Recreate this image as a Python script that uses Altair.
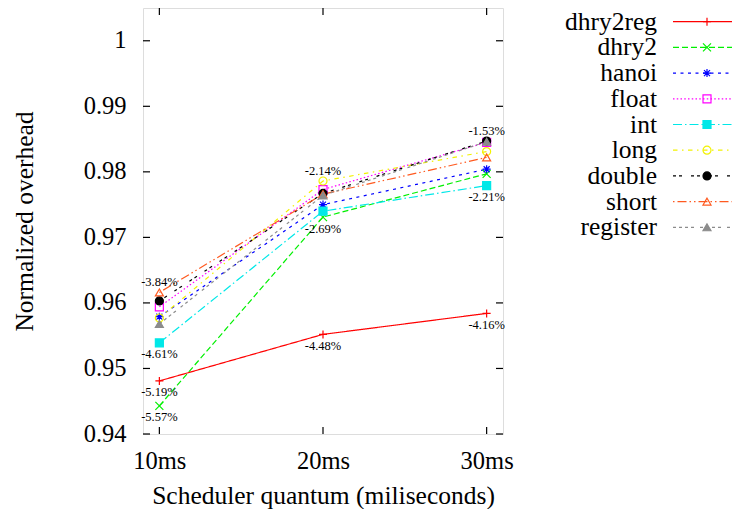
import altair as alt
import pandas as pd

# ---- data ----
series = ["dhry2reg", "dhry2", "hanoi", "float", "int", "long", "double", "short", "register"]
quanta = [10, 20, 30]

dhry2reg = [0.9481, 0.9552, 0.9584]
dhry2 = [0.9443, 0.9731, 0.9797]
hanoi = [0.9579, 0.9750, 0.9804]
float_v = [0.9594, 0.9773, 0.9845]
int_v = [0.9539, 0.9740, 0.9779]
long_v = [0.9577, 0.9786, 0.9831]
double_v = [0.9603, 0.9767, 0.9847]
short_v = [0.9616, 0.9766, 0.9822]
register_v = [0.9568, 0.9764, 0.9846]

y_ticks = [0.94, 0.95, 0.96, 0.97, 0.98, 0.99, 1.0]

label_series = ["short", "int", "dhry2reg", "dhry2", "long", "dhry2", "dhry2reg", "double", "int", "dhry2reg"]
label_quanta = [10, 10, 10, 10, 20, 20, 20, 30, 30, 30]
label_texts = ["-3.84%", "-4.61%", "-5.19%", "-5.57%", "-2.14%", "-2.69%", "-4.48%", "-1.53%", "-2.21%", "-4.16%"]
label_side = ["above", "below", "below", "below", "above", "below", "below", "above", "below", "below"]

# ---- styles ----
colors = ["#ff0000", "#00f000", "#0000ff", "#ff00ff", "#00e8e8", "#f2f200", "#000000", "#ff5a20", "#8c8c8c"]
dashes = [[1, 0], [6, 3], [3, 4.5], [1.5, 2.25], [9, 3, 1.5, 3], [4.5, 4.5, 1.5, 4.5],
          [3, 3, 3, 9], [1.5, 3, 9, 3, 1.5, 3], [3, 3, 3, 3, 3, 3, 3, 6]]
PLUS = "M-1,0L1,0M0,-1L0,1"
CROSS = "M-1,-1L1,1M-1,1L1,-1"
STAR = "M-1,0L1,0M0,-1L0,1M-0.75,-0.75L0.75,0.75M-0.75,0.75L0.75,-0.75"
shapes = [PLUS, CROSS, STAR, "square", "square", "circle", "circle", "triangle-up", "triangle-up"]
fills = ["transparent", "transparent", "transparent", "transparent", "#00e8e8",
         "transparent", "#000000", "transparent", "#8c8c8c"]

FONT = "'Liberation Serif', 'Times New Roman', Times, serif"

all_vals = [dhry2reg, dhry2, hanoi, float_v, int_v, long_v, double_v, short_v, register_v]
rows = []
for s, vals in zip(series, all_vals):
    for q, v in zip(quanta, vals):
        rows.append({"series": s, "quantum": q, "value": v})
df = pd.DataFrame(rows)

lab = pd.DataFrame({"series": label_series, "quantum": label_quanta,
                    "text": label_texts, "side": label_side})
lab = lab.merge(df, on=["series", "quantum"], how="left")

ytick_df = pd.DataFrame({"value": y_ticks})
xtick_df = pd.DataFrame({"quantum": quanta})
leg_df = pd.DataFrame({"series": series})

xscale = alt.Scale(domain=[9, 31], nice=False, zero=False)
yscale = alt.Scale(domain=[0.94, 1.005], nice=False, zero=False)

color = alt.Color("series:N", scale=alt.Scale(domain=series, range=colors), legend=None)
dash = alt.StrokeDash("series:N", scale=alt.Scale(domain=series, range=dashes), legend=None)
shape = alt.Shape("series:N", scale=alt.Scale(domain=series, range=shapes), legend=None)
fill = alt.Fill("series:N", scale=alt.Scale(domain=series, range=fills), legend=None)

xaxis = alt.Axis(values=quanta, labelExpr="datum.value + 'ms'", title="Scheduler quantum (miliseconds)",
                 grid=False, ticks=False, tickSize=0, domain=False, labelPadding=34,
                 labelBaseline="alphabetic", labelFont=FONT, labelFontSize=24.5, labelColor="black",
                 titleFont=FONT, titleFontSize=25.5, titleFontWeight="normal", titleColor="black",
                 titleBaseline="alphabetic", titleX=180, titleY=69)
yaxis = alt.Axis(values=y_ticks, format=".2~f", title="Normalized overhead",
                 grid=False, ticks=False, tickSize=0, domain=False, labelPadding=17,
                 labelFont=FONT, labelFontSize=24.5, labelColor="black",
                 titleFont=FONT, titleFontSize=25.5, titleFontWeight="normal", titleColor="black",
                 titleBaseline="alphabetic", titleX=-111, titleY=213)

X = alt.X("quantum:Q", scale=xscale, axis=xaxis)
Y = alt.Y("value:Q", scale=yscale, axis=yaxis)

base = alt.Chart(df)
lines = base.mark_line(strokeWidth=1.2).encode(x=X, y=Y, color=color, strokeDash=dash, detail="series:N")
points = base.mark_point(filled=False, size=64, strokeWidth=1.2, opacity=1).encode(
    x=X, y=Y, shape=shape, color=color, fill=fill)

labels_above = alt.Chart(lab).transform_filter("datum.side == 'above'").mark_text(
    font=FONT, fontSize=12.5, dy=-10, baseline="middle", color="black").encode(x=X, y=Y, text="text:N")
labels_below = alt.Chart(lab).transform_filter("datum.side == 'below'").mark_text(
    font=FONT, fontSize=12.5, dy=11.5, baseline="middle", color="black").encode(x=X, y=Y, text="text:N")

tick_left = alt.Chart(ytick_df).mark_rule(color="black", strokeWidth=1.2).encode(
    y=Y, x=alt.value(0), x2=alt.value(7))
tick_right = alt.Chart(ytick_df).mark_rule(color="black", strokeWidth=1.2).encode(
    y=Y, x=alt.value(353), x2=alt.value(360))
tick_bottom = alt.Chart(xtick_df).mark_rule(color="black", strokeWidth=1.2).encode(
    x=X, y=alt.value(426), y2=alt.value(419))
tick_top = alt.Chart(xtick_df).mark_rule(color="black", strokeWidth=1.2).encode(
    x=X, y=alt.value(0), y2=alt.value(7))

main = alt.layer(tick_left, tick_right, tick_bottom, tick_top, lines, points, labels_above, labels_below)

LY = alt.Y("series:N", scale=alt.Scale(type="point", domain=series, range=[13.7, 219.3], padding=0),
           axis=None)
leg_text = alt.Chart(leg_df).mark_text(font=FONT, fontSize=25.5, align="right", baseline="middle",
                                       color="black").encode(y=LY, x=alt.value(514), text="series:N")
leg_rule = alt.Chart(leg_df).mark_rule(strokeWidth=1.2).encode(
    y=LY, x=alt.value(530), x2=alt.value(595), color=color, strokeDash=dash)
leg_pts = alt.Chart(leg_df).mark_point(filled=False, size=64, strokeWidth=1.2, opacity=1).encode(
    y=LY, x=alt.value(564), shape=shape, color=color, fill=fill)
legend = alt.layer(leg_rule, leg_pts, leg_text)

chart = alt.layer(main, legend).resolve_scale(y="independent").properties(
    width=360, height=426,
    autosize=alt.AutoSizeParams(type="none"),
    padding={"left": 135, "top": 0, "right": 229, "bottom": 75},
).configure_view(stroke="black", strokeWidth=1.5).configure(background="white")

chart.save("out.html", embed_options={"renderer": "svg", "actions": False})
